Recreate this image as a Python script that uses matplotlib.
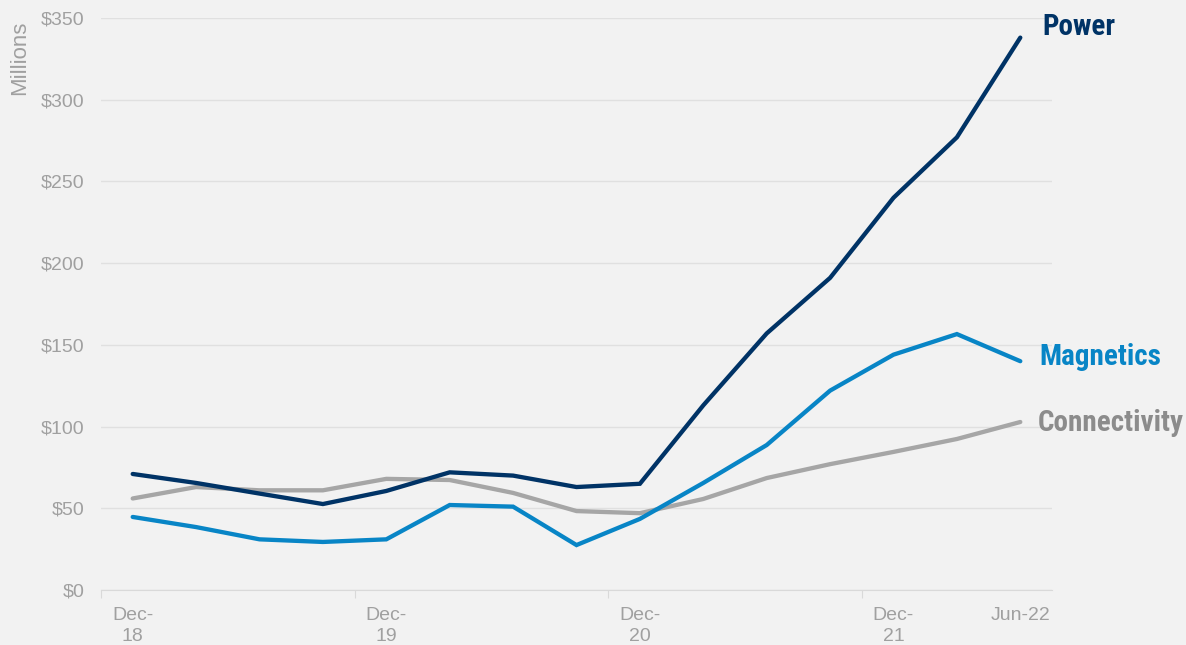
import matplotlib
matplotlib.use("Agg")
import matplotlib.pyplot as plt
from matplotlib import font_manager as fm

quarters = ["Dec-18", "Mar-19", "Jun-19", "Sep-19", "Dec-19", "Mar-20", "Jun-20",
            "Sep-20", "Dec-20", "Mar-21", "Jun-21", "Sep-21", "Dec-21", "Mar-22", "Jun-22"]
power = [71, 65.5, 59, 52.6, 60.6, 72, 70, 63, 65, 113, 157, 191, 240, 277, 338]
magnetics = [44.7, 38.5, 31, 29.4, 31, 52, 51, 27.5, 43.5, 65.5, 88.7, 122, 144, 156.6, 140]
connectivity = [56, 63, 61, 61, 68, 67.3, 59.4, 48.3, 47, 55.7, 68.5, 77, 84.5, 92.4, 102.8]
y_ticks = [0, 50, 100, 150, 200, 250, 300, 350]
x_label_idx = [0, 4, 8, 12, 14]
x_labels = ["Dec-\n18", "Dec-\n19", "Dec-\n20", "Dec-\n21", "Jun-22"]

entries = fm.fontManager.ttflist
names = {f.name for f in entries}
base_font = "Liberation Sans" if "Liberation Sans" in names else "DejaVu Sans"

# pick a condensed bold face for the series labels
cond_family, cond_stretch = None, "normal"
for cand in ["Roboto Condensed", "Liberation Sans Narrow", "Open Sans Condensed", "Arial Narrow"]:
    if cand in names:
        cond_family = cand
        break
if cond_family is None:
    for f in entries:
        st = str(f.stretch)
        if ("condensed" in st or st.isdigit() and int(st) < 500) and f.name in ("Open Sans", "Roboto", "DejaVu Sans", "Noto Sans", "Inter", "Lato"):
            cond_family, cond_stretch = f.name, "condensed"
            break
if cond_family is None:
    cond_family = base_font
label_size = 21 if cond_stretch == "condensed" or cond_family != base_font else 17

plt.rcParams['font.family'] = [base_font, 'DejaVu Sans']

bg = "#f2f2f2"
fig = plt.figure(figsize=(11.86, 6.45), dpi=100, facecolor=bg)
ax = fig.add_axes([101/1186, 1-590/645, (1052-101)/1186, (590-18)/645], facecolor=bg)

x = list(range(len(quarters)))
c_power, c_mag, c_conn = "#003366", "#0885c6", "#a6a6a6"
ax.plot(x, connectivity, color=c_conn, lw=3.1, solid_capstyle="round", solid_joinstyle="miter", zorder=3)
ax.plot(x, magnetics, color=c_mag, lw=3.1, solid_capstyle="round", solid_joinstyle="miter", zorder=4)
ax.plot(x, power, color=c_power, lw=3.1, solid_capstyle="round", solid_joinstyle="miter", zorder=5)

ax.set_xlim(-0.5, 14.5)
ax.set_ylim(0, 350)
ax.set_yticks(y_ticks)
ax.set_yticklabels([f"${v}" for v in y_ticks])
ax.grid(axis="y", color="#e0e0e0", lw=1)
ax.set_axisbelow(True)
for s in ["top", "right", "left"]:
    ax.spines[s].set_visible(False)
ax.spines["bottom"].set_color("#d9d9d9")
ax.tick_params(axis="y", length=0, labelsize=14, labelcolor="#a0a0a0", pad=12)

ax.set_xticks([-0.5, 3.5, 7.5, 11.5])
ax.set_xticklabels([])
ax.tick_params(axis="x", which="major", length=6, color="#d9d9d9")
ax.set_xticks(x_label_idx, minor=True)
ax.set_xticklabels(x_labels, minor=True)
ax.tick_params(axis="x", which="minor", length=0, labelsize=14, labelcolor="#a0a0a0", pad=12)
for lbl in ax.get_xticklabels(minor=True):
    lbl.set_linespacing(1.3)
    lbl.set_verticalalignment("top")

fig.text(20/1186, 1-58/645, "Millions", rotation=90, ha="center", va="center",
         fontsize=16, color="#a0a0a0")

lab_kw = dict(fontsize=label_size, fontweight="bold", family=[cond_family, 'DejaVu Sans'],
              fontstretch=cond_stretch, va="center", ha="left")
fig.text(1042/1186, 1-27/645, "Power", color=c_power, **lab_kw)
fig.text(1039/1186, 1-357/645, "Magnetics", color=c_mag, **lab_kw)
fig.text(1038/1186, 1-423/645, "Connectivity", color="#8c8c8c", **lab_kw)

fig.savefig("out.png", dpi=100, facecolor=bg)
